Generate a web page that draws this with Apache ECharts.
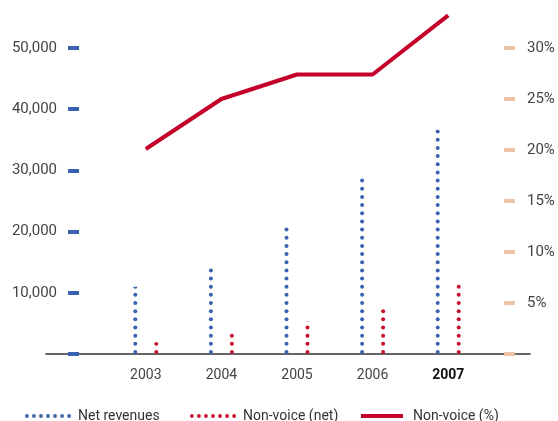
<!DOCTYPE html>
<html>
<head>
<meta charset="utf-8">
<script src="https://cdn.jsdelivr.net/npm/echarts@6/dist/echarts.min.js"></script>
<style>
  html, body { margin: 0; padding: 0; background: #fff; }
  #main { width: 558px; height: 421px; }
</style>
</head>
<body>
<div id="main"></div>
<script>
// data
var years = ['2003', '2004', '2005', '2006', '2007'];
var netRevenues = [11000, 14500, 21000, 29000, 36700];
var nonVoiceNet = [1900, 3400, 5400, 7500, 11700];
var nonVoicePct = [20.1, 25.0, 27.4, 27.4, 33.2];

var blue = '#3A62B0';
var red = '#C8102E';
var lineRed = '#C4002A';
var tan = '#EDC3A5';

// dotted legend icon: 7 small circles
function dotsIcon() {
    var p = 'path://';
    for (var i = 0; i < 7; i++) {
        var cx = 2 + i * 7.5;
        p += 'M' + (cx - 2) + ' 2A2 2 0 1 0 ' + (cx + 2) + ' 2A2 2 0 1 0 ' + (cx - 2) + ' 2Z';
    }
    return p;
}

var myChart = echarts.init(document.getElementById('main'));
var font = 'Roboto, "DejaVu Sans", sans-serif';

var legendBase = {
    top: 404,
    itemGap: 0,
    textStyle: { fontSize: 14, color: '#333', fontFamily: font, padding: [0, 0, 0, 2] }
};

var option = {
    animation: false,
    grid: [
        { left: 108, right: 72, top: 48, bottom: 67 },
        { left: 46, right: 28, top: 48, bottom: 67 }
    ],
    legend: [
        Object.assign({}, legendBase, { left: 20, data: [{ name: 'Net revenues', icon: dotsIcon() }], itemWidth: 46, itemHeight: 4 }),
        Object.assign({}, legendBase, { left: 185, data: [{ name: 'Non-voice (net)', icon: dotsIcon() }], itemWidth: 46, itemHeight: 4 }),
        Object.assign({}, legendBase, { left: 356, data: [{ name: 'Non-voice (%)', icon: 'rect' }], itemWidth: 42, itemHeight: 4,
            textStyle: { fontSize: 14, color: '#333', fontFamily: font, padding: [0, 0, 0, 5] } })
    ],
    xAxis: [
        {
            type: 'category',
            gridIndex: 0,
            data: years,
            axisLine: { show: false },
            axisTick: { show: false },
            axisLabel: {
                margin: 14,
                fontSize: 14,
                color: '#444',
                fontFamily: font,
                formatter: function (v) {
                    return v === '2007' ? '{b|' + v + '}' : v;
                },
                rich: { b: { fontWeight: 'bold', color: '#111', fontSize: 14, fontFamily: font } }
            }
        },
        {
            type: 'value',
            gridIndex: 1,
            min: 0,
            max: 1,
            z: 0,
            axisLine: { show: true, lineStyle: { color: '#333', width: 1.5 } },
            axisTick: { show: false },
            axisLabel: { show: false },
            splitLine: { show: false }
        }
    ],
    yAxis: [
        {
            type: 'value',
            gridIndex: 0,
            position: 'left',
            offset: 29,
            min: 0,
            max: 50000,
            interval: 10000,
            z: 3,
            axisLine: { show: false },
            axisTick: { show: true, inside: false, length: 11, lineStyle: { color: blue, width: 4 } },
            splitLine: { show: false },
            axisLabel: {
                margin: 22,
                fontSize: 15,
                color: '#444',
                fontFamily: font,
                formatter: function (v) {
                    return v === 0 ? '' : v.toLocaleString('en-US');
                }
            }
        },
        {
            type: 'value',
            gridIndex: 0,
            position: 'right',
            offset: 18,
            min: 0,
            max: 30,
            interval: 5,
            z: 3,
            axisLine: { show: false },
            axisTick: { show: true, inside: false, length: 11, lineStyle: { color: tan, width: 4 } },
            splitLine: { show: false },
            axisLabel: {
                margin: 23,
                fontSize: 15,
                color: '#444',
                fontFamily: font,
                padding: [0, 0, 18, 0],
                formatter: function (v) {
                    return v === 0 ? '' : v + '%';
                }
            }
        },
        {
            type: 'value',
            gridIndex: 1,
            show: false,
            min: 0,
            max: 1
        }
    ],
    series: [
        {
            name: 'Net revenues',
            type: 'pictorialBar',
            xAxisIndex: 0,
            yAxisIndex: 0,
            data: netRevenues,
            symbol: 'circle',
            symbolSize: [4, 4],
            symbolRepeat: true,
            symbolClip: true,
            symbolMargin: 2.1,
            barWidth: 10,
            barGap: '110%',
            itemStyle: { color: blue },
            z: 4
        },
        {
            name: 'Non-voice (net)',
            type: 'pictorialBar',
            xAxisIndex: 0,
            yAxisIndex: 0,
            data: nonVoiceNet,
            symbol: 'circle',
            symbolSize: [4, 4],
            symbolRepeat: true,
            symbolClip: true,
            symbolMargin: 2.1,
            barWidth: 10,
            barGap: '110%',
            itemStyle: { color: red },
            z: 4
        },
        {
            name: 'Non-voice (%)',
            type: 'line',
            xAxisIndex: 0,
            yAxisIndex: 1,
            data: nonVoicePct,
            clip: false,
            symbol: 'none',
            lineStyle: { color: lineRed, width: 4 },
            itemStyle: { color: lineRed },
            z: 5
        }
    ]
};
option && myChart.setOption(option);
</script>
</body>
</html>
